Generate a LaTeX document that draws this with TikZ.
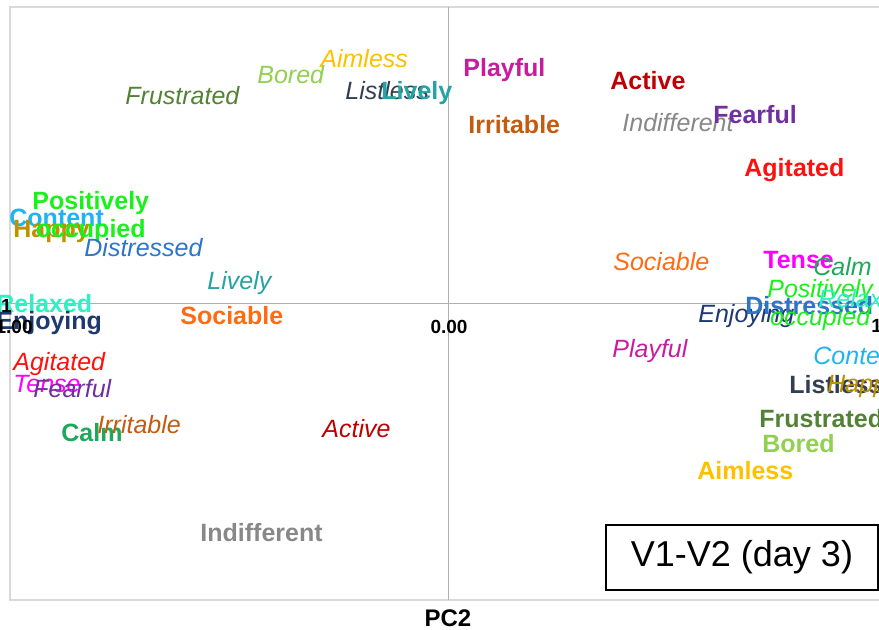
\documentclass[tikz,border=0pt]{standalone}
\usepackage{fontspec}
\setmainfont{Liberation Sans}
\usepackage{tikz}
\usepackage{color}
\usetikzlibrary{calc}

\definecolor{cActive}{HTML}{C00000}
\definecolor{cAgitated}{HTML}{FF1010}
\definecolor{cAimless}{HTML}{FFC000}
\definecolor{cBored}{HTML}{92D050}
\definecolor{cCalm}{HTML}{1EA85A}
\definecolor{cContent}{HTML}{1FB4F0}
\definecolor{cDistressed}{HTML}{2E75C6}
\definecolor{cEnjoying}{HTML}{1F3870}
\definecolor{cFearful}{HTML}{7030A0}
\definecolor{cFrustrated}{HTML}{548235}
\definecolor{cHappy}{HTML}{BF9000}
\definecolor{cIndifferent}{HTML}{888888}
\definecolor{cIrritable}{HTML}{C55A11}
\definecolor{cListless}{HTML}{333F50}
\definecolor{cLively}{HTML}{26A3A3}
\definecolor{cPlayful}{HTML}{C81CA0}
\definecolor{cPositively}{HTML}{1AF01A}
\definecolor{cRelaxed}{HTML}{2EF0C4}
\definecolor{cSociable}{HTML}{FF6A13}
\definecolor{cTense}{HTML}{FF00FF}
\definecolor{cFrame}{HTML}{D9D9D9}
\definecolor{cAxis}{HTML}{B0B0B0}

\begin{document}
\begin{tikzpicture}[x=0.75pt,y=-0.75pt,semithick,
    lab/.style={anchor=base west,inner sep=0pt},
    bl/.style={lab,font=\fontsize{18.75}{21}\selectfont\bfseries},
    il/.style={lab,font=\fontsize{18.75}{21}\selectfont\itshape},
    tick/.style={inner sep=0pt,font=\fontsize{14.25}{16}\selectfont\bfseries}]
    \useasboundingbox (0,0) rectangle (879,630);
    \clip (0,0) rectangle (879,630);
    \draw[cFrame,line width=1.5pt] (10,7) rectangle (900,600);
    \coordinate (top) at (448,7);
    \coordinate (bot) at (448,600);
    \coordinate (lft) at (10,303);
    \coordinate (rgt) at (879,303);
    \draw[cAxis] (top) -- (bot);
    \draw[cAxis] (lft) -- (rgt);
    \node[il,cAimless] (i1) at (320,68) {Aimless};
    \node[il,cBored] (i2) at (257,84) {Bored};
    \node[il,cFrustrated] (i3) at (125,105) {Frustrated};
    \node[il,cListless] (i4) at (345,100) {Listless};
    \node[bl,cLively] (b1) at (381,100) {Lively};
    \node[bl,cPlayful] (b2) at (463,77) {Playful};
    \node[bl,cActive] (b3) at (610,90) {Active};
    \node[bl,cIrritable] (b4) at (468,134) {Irritable};
    \node[il,cIndifferent] (i5) at (622,132) {Indifferent};
    \node[bl,cFearful] (b5) at (713,124) {Fearful};
    \node[bl,cAgitated] (b6) at (744,177) {Agitated};
    \node[bl,cContent] (b7) at (9,227) {Content};
    \node[bl,cHappy] (b8) at (13,238) {Happy};
    \node[bl,cPositively,align=center] (b9) at (32,238) {Positively\\occupied};
    \node[il,cDistressed] (i6) at (84,257) {Distressed};
    \node[il,cLively] (i7) at (207,290) {Lively};
    \node[bl,cRelaxed] (b10) at (-4,313) {Relaxed};
    \node[tick,anchor=base east] (t1) at (12,313) {1};
    \node[bl,cEnjoying] (b11) at (-4,330) {Enjoying};
    \node[tick,anchor=base east] (t2) at (33,334) {1.00};
    \node[bl,cSociable] (b12) at (180,325) {Sociable};
    \node[tick,anchor=base] (t3) at (449,334) {0.00};
    \node[il,cAgitated] (i8) at (13,371) {Agitated};
    \node[il,cTense] (i9) at (13,393) {Tense};
    \node[il,cFearful] (i10) at (33,398) {Fearful};
    \node[bl,cCalm] (b13) at (61,442) {Calm};
    \node[il,cIrritable] (i11) at (97,434) {Irritable};
    \node[il,cActive] (i12) at (322,438) {Active};
    \node[bl,cIndifferent] (b14) at (200,542) {Indifferent};
    \node[il,cSociable] (i13) at (613,271) {Sociable};
    \node[bl,cTense] (b15) at (763,269) {Tense};
    \node[il,cCalm] (i14) at (813,276) {Calm};
    \node[il,cEnjoying] (i15) at (698,323) {Enjoying};
    \node[bl,cDistressed] (b16) at (745,315) {Distressed};
    \node[il,cPositively,align=center] (i16) at (767,326) {Positively\\occupied};
    \node[il,cRelaxed] (i17) at (818,308) {Relaxed};
    \node[tick,anchor=base west] (t4) at (871,333) {1.00};
    \node[il,cPlayful] (i18) at (612,358) {Playful};
    \node[il,cContent] (i19) at (813,365) {Content};
    \node[bl,cListless] (b17) at (789,394) {Listless};
    \node[il,cHappy] (i20) at (827,393) {Happy};
    \node[bl,cFrustrated] (b18) at (759,428) {Frustrated};
    \node[bl,cBored] (b19) at (762,453) {Bored};
    \node[bl,cAimless] (b20) at (697,480) {Aimless};
    \node[inner sep=0pt,font=\fontsize{18}{20}\selectfont\bfseries,anchor=base] (pc) at (448,627) {PC2};
    \node[draw=black,line width=1pt,minimum width=204pt,minimum height=48.75pt,font=\fontsize{27}{30}\selectfont] (day) at (742,557.5) {V1-V2 (day 3)};
\end{tikzpicture}
\end{document}
